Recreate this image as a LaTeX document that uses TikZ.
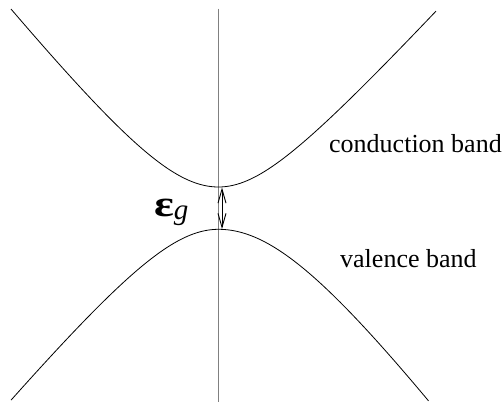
\documentclass[tikz,border=0pt]{standalone}
\usepackage{fontspec}
\setmainfont{Liberation Serif}
\usepackage{graphicx}
\usepackage{tikz}
\usetikzlibrary{arrows.meta}
\definecolor{axisgray}{HTML}{808080}

\begin{document}
\begin{tikzpicture}[x=1pt,y=-1pt,font=\fontsize{26}{30}\selectfont,
    band/.style={line width=0.8pt,samples=80},
    gaparrow/.style={{Straight Barb[length=14pt,width=8pt]}-{Straight Barb[length=14pt,width=8pt]},line width=0.9pt},
    bandlabel/.style={anchor=base west,inner sep=0pt}]
  \useasboundingbox (0,0) rectangle (503,402);
  % k = 0 axis
  \draw[axisgray,line width=1.2pt] (218.5,8.5) -- (218.5,402);
  % conduction band (x in units of 10px)
  \draw[band] plot[domain=-20.75:0] ({218.5+10*\x},{187-12.5*(sqrt(64+\x*\x)-8)})
    -- plot[domain=0:21.75] ({218.5+10*\x},{187-11*(sqrt(46.24+\x*\x)-6.8)});
  % valence band
  \draw[band] plot[domain=-20.75:0] ({218.5+10*\x},{229.3+12*(sqrt(64+\x*\x)-8)})
    -- plot[domain=0:21] ({218.5+10*\x},{229.3+13.5*(sqrt(121+\x*\x)-11)});
  % gap
  \coordinate (cbmin) at (222,187.5);
  \coordinate (vbmax) at (222,229);
  \draw[gaparrow] (cbmin) -- (vbmax);
  \node[bandlabel] (gaplabel) at (154,216)
    {\fontsize{37}{40}\selectfont\bfseries\scalebox{1.25}[1]{ε}%
     \raisebox{-3pt}{\fontsize{29}{34}\selectfont\mdseries\itshape g}};
  \node[bandlabel] (cblabel) at (329,152.7) {conduction band};
  \node[bandlabel] (vblabel) at (340,267) {valence band};
\end{tikzpicture}
\end{document}
